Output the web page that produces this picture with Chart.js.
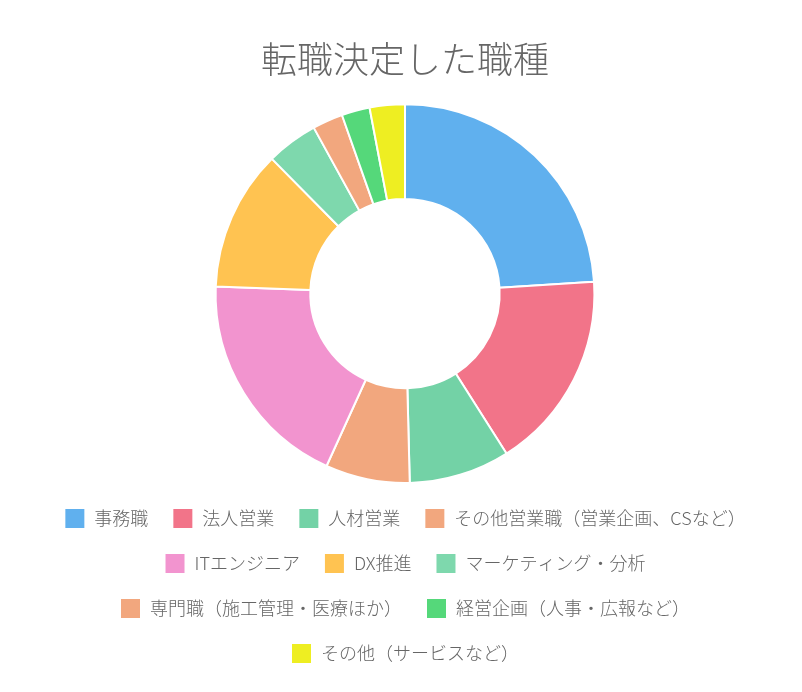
<!DOCTYPE html>
<html><head><meta charset="utf-8">
<script src="https://cdn.jsdelivr.net/npm/chart.js@4"></script>
<style>html,body{margin:0;padding:0;background:#fff}#wrap{width:802px;height:692px}</style>
</head><body><div id="wrap"><canvas id="c"></canvas></div>
<script>
const titleText = '転職決定した職種';
const categories = ['事務職','法人営業','人材営業','その他営業職（営業企画、CSなど）','ITエンジニア','DX推進','マーケティング・分析','専門職（施工管理・医療ほか）','経営企画（人事・広報など）','その他（サービスなど）'];
const values = [24, 17, 8.6, 7.2, 18.8, 12, 4.4, 2.6, 2.4, 3];
const colors = ['#60B0EE','#F27489','#73D2A6','#F2A77E','#F294CF','#FFC351','#7ED8AD','#F2A77E','#55D87A','#EEEE22'];
const FONT = '"Noto Sans CJK JP", "Noto Sans", sans-serif';
new Chart(document.getElementById('c'), {
  type: 'doughnut',
  data: { labels: categories, datasets: [{ data: values, backgroundColor: colors, borderColor: '#fff', borderWidth: 2 }] },
  options: {
    responsive: true, maintainAspectRatio: false, animation: false,
    cutout: '50%',
    layout: { padding: { top: 0, bottom: 18, left: 8 } },
    plugins: {
      title: { display: true, text: titleText, color: '#666', font: { family: FONT, size: 36, weight: 300 }, padding: { top: 38, bottom: 22 } },
      legend: { position: 'bottom', labels: { color: '#666', boxWidth: 21, boxHeight: 21, padding: 24, font: { family: FONT, size: 18, weight: 300 } } },
      tooltip: { enabled: false }
    }
  }
});
</script></body></html>
